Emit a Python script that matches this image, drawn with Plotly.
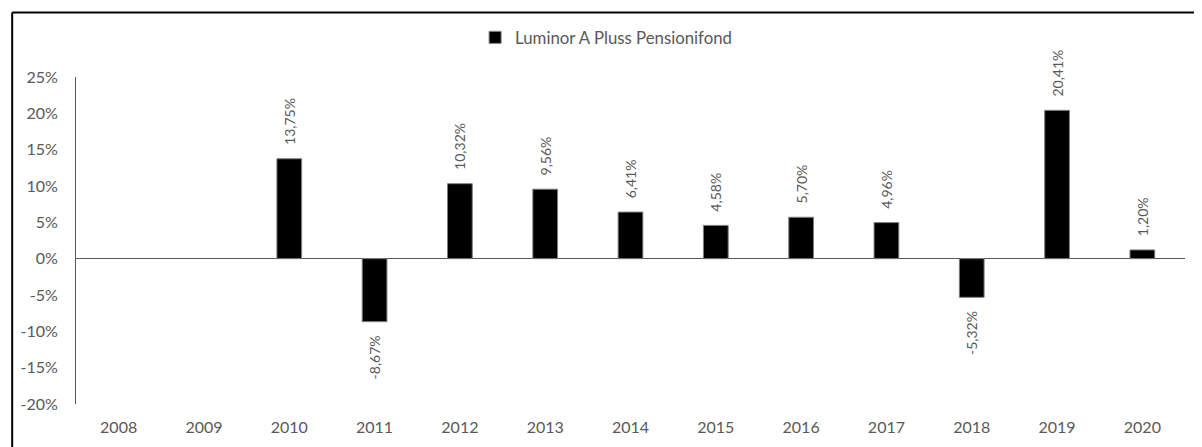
import plotly.graph_objects as go

years = ["2008", "2009", "2010", "2011", "2012", "2013", "2014", "2015", "2016", "2017", "2018", "2019", "2020"]
returns = [None, None, 13.75, -8.67, 10.32, 9.56, 6.41, 4.58, 5.70, 4.96, -5.32, 20.41, 1.20]
series_name = "Luminor A Pluss Pensionifond"
y_ticks = [25, 20, 15, 10, 5, 0, -5, -10, -15, -20]

PAD = "\u00a0\u00a0\u00a0"


def fmt(v):
    if v is None:
        return ""
    s = f"{v:.2f}".replace(".", ",") + "%"
    return PAD + s if v >= 0 else s + PAD


labels = [fmt(v) for v in returns]

FONT = "Lato"
GRAY = "#595959"

# page body has an 8px offset; margins are set so the plot lands at x 73..1185, y 74..404
W, H = 1202, 447
ML, MT = 65, 66
MR = W - (1185 - 8)
MB = H - (404 - 8)
plot_w = W - ML - MR
plot_h = H - MT - MB

fig = go.Figure()
fig.add_trace(go.Bar(
    x=years, y=returns, name=series_name,
    marker=dict(color="black", line=dict(color="#7f7f7f", width=1)),
    text=labels, textposition="outside", textangle=-90, constraintext="none",
    textfont=dict(family=FONT, size=14, color=GRAY),
    cliponaxis=False,
))

fig.update_layout(
    width=W, height=H,
    margin=dict(l=ML, r=MR, t=MT, b=MB),
    paper_bgcolor="white", plot_bgcolor="white",
    bargap=0.71,
    showlegend=True,
    legend=dict(orientation="h", x=0.478, xanchor="center", y=1.121, yanchor="middle",
                font=dict(family=FONT, size=16.8, color=GRAY), bgcolor="rgba(0,0,0,0)"),
    font=dict(family=FONT, size=16, color=GRAY),
    shapes=[
        dict(type="line", xref="paper", yref="paper",
             x0=-(ML - 1) / plot_w, x1=1 + MR / plot_w,
             y0=1 + (MT - 1) / plot_h, y1=1 + (MT - 1) / plot_h,
             line=dict(color="black", width=2)),
        dict(type="line", xref="paper", yref="paper",
             x0=-(ML - 1) / plot_w, x1=-(ML - 1) / plot_w,
             y0=1 + (MT - 1) / plot_h, y1=-MB / plot_h,
             line=dict(color="black", width=2)),
    ],
)
fig.update_xaxes(type="category", categoryorder="array", categoryarray=years,
                 showline=False, showgrid=False, ticks="", zeroline=False,
                 tickfont=dict(family=FONT, size=16, color=GRAY), ticklabelstandoff=12)
fig.update_yaxes(range=[-20, 25], tickvals=y_ticks, ticktext=[f"{t}%" for t in y_ticks],
                 showline=True, linecolor=GRAY, linewidth=1, showgrid=False, ticks="",
                 zeroline=True, zerolinecolor=GRAY, zerolinewidth=1,
                 tickfont=dict(family=FONT, size=16, color=GRAY), ticklabelstandoff=14)

fig.write_html("out.html")
